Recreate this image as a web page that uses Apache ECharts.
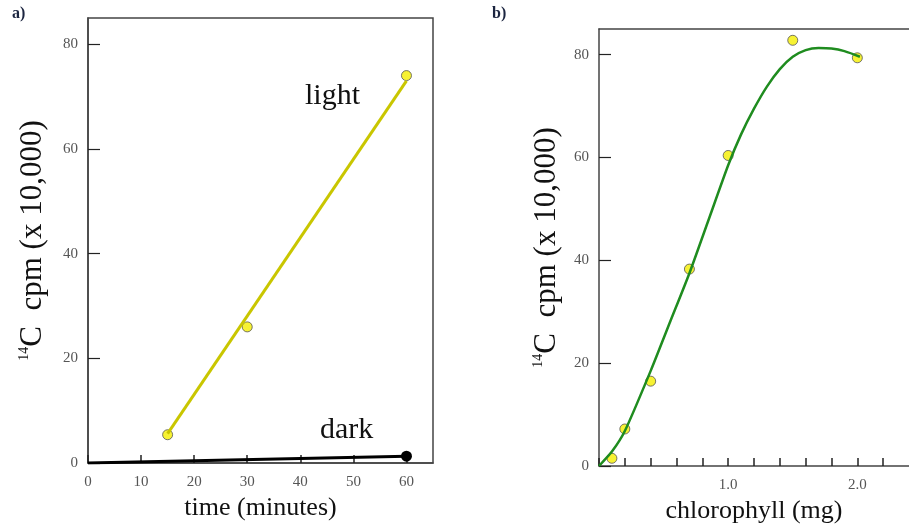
<!DOCTYPE html>
<html>
<head>
<meta charset="utf-8">
<script src="https://cdn.jsdelivr.net/npm/echarts@6/dist/echarts.min.js"></script>
<style>
html, body { margin: 0; padding: 0; background: #fff; }
#main { width: 909px; height: 532px; }
</style>
</head>
<body>
<div id="main"></div>
<script>
// panel a: time course
var lightTime = [15, 30, 60];
var lightCpm = [5.4, 26, 74];
var lightFit = [[15, 5.6], [60, 73]];
var darkLine = [[0, 0], [60, 1.3]];

// panel b: chlorophyll
var chloroMg = [0.1, 0.2, 0.4, 0.7, 1.0, 1.5, 2.0];
var chloroCpm = [1.5, 7.2, 16.5, 38.3, 60.4, 82.8, 79.4];
var chloroFit = [[0, 0], [0.1, 2.8], [0.2, 6.8], [0.4, 18.5], [0.55, 28], [0.7, 37.5], [0.85, 48],
    [1.0, 58.5], [1.1, 64.5], [1.2, 69.5], [1.3, 73.8], [1.4, 77.2], [1.5, 79.6], [1.6, 80.9],
    [1.7, 81.3], [1.8, 81.2], [1.9, 80.7], [2.02, 79.6]];
var chloroLabels = ['1.0', '2.0'];

var serif = "'Liberation Serif', 'DejaVu Serif', serif";

function pairs(xs, ys) {
    var out = [];
    for (var i = 0; i < xs.length; i++) {
        out.push([xs[i], ys[i]]);
    }
    return out;
}

function xAx(grid, min, max, interval, name, fmt) {
    return {
        gridIndex: grid,
        type: 'value',
        min: min,
        max: max,
        interval: interval,
        axisLine: { lineStyle: { color: '#444', width: 1.5 } },
        axisTick: { inside: true, length: 8, lineStyle: { color: '#222', width: 1.5 } },
        axisLabel: { showMaxLabel: false, color: '#555', fontFamily: serif, fontSize: 15, margin: 12, formatter: fmt },
        splitLine: { show: false },
        name: name,
        nameLocation: 'middle',
        nameGap: 28,
        nameTextStyle: { fontFamily: serif, fontSize: 26, color: '#111' }
    };
}

function yAx(grid, gap) {
    return {
        gridIndex: grid,
        type: 'value',
        min: 0,
        max: 85,
        interval: 20,
        axisLine: { lineStyle: { color: '#444', width: 1.5 } },
        axisTick: { inside: true, length: 12, lineStyle: { color: '#222', width: 1.2 } },
        axisLabel: { showMaxLabel: false, color: '#555', fontFamily: serif, fontSize: 15, margin: 10 },
        splitLine: { show: false },
        name: '{s|14}{t|C  cpm (x 10,000)}',
        nameLocation: 'middle',
        nameGap: gap,
        nameTextStyle: {
            rich: {
                s: { fontFamily: serif, fontSize: 14, color: '#111', verticalAlign: 'top' },
                t: { fontFamily: serif, fontSize: 31, color: '#111' }
            }
        }
    };
}

var dom = document.getElementById('main');
var myChart = echarts.init(dom);
var option = {
    backgroundColor: '#fff',
    animation: false,
    grid: [
        { left: 88, top: 18, width: 345, height: 445, show: true, borderColor: '#444', borderWidth: 1.5 },
        { left: 599, top: 29, width: 310, height: 437 }
    ],
    xAxis: [
        xAx(0, 0, 65, 10, 'time (minutes)'),
        xAx(1, 0, 2.4, 0.2, 'chlorophyll (mg)', function (v) {
            var r = Math.round(v);
            if (r > 0 && Math.abs(v - r) < 1e-6) {
                return chloroLabels[r - 1];
            }
            return '';
        }),
        {
            // top frame line of panel b
            gridIndex: 1,
            type: 'value',
            position: 'top',
            min: 0,
            max: 2.4,
            axisLine: { lineStyle: { color: '#444', width: 1.5 } },
            axisTick: { show: false },
            axisLabel: { show: false },
            splitLine: { show: false }
        }
    ],
    yAxis: [yAx(0, 40), yAx(1, 37)],
    graphic: [
        { type: 'text', left: 12, top: 6, style: { text: 'a)', font: 'bold 16px ' + serif, fill: '#1c2540' } },
        { type: 'text', left: 492, top: 6, style: { text: 'b)', font: 'bold 16px ' + serif, fill: '#1c2540' } },
        { type: 'text', left: 305, top: 81, style: { text: 'light', font: '30px ' + serif, fill: '#111' } },
        { type: 'text', left: 320, top: 415, style: { text: 'dark', font: '30px ' + serif, fill: '#111' } }
    ],
    series: [
        {
            type: 'line',
            xAxisIndex: 0,
            yAxisIndex: 0,
            data: lightFit,
            showSymbol: false,
            lineStyle: { color: '#c9c600', width: 3 }
        },
        {
            type: 'line',
            xAxisIndex: 0,
            yAxisIndex: 0,
            data: [{ value: darkLine[0], symbol: 'none' }, darkLine[1]],
            symbol: 'circle',
            symbolSize: 11,
            showSymbol: true,
            itemStyle: { color: '#000' },
            lineStyle: { color: '#000', width: 3 }
        },
        {
            type: 'scatter',
            xAxisIndex: 0,
            yAxisIndex: 0,
            data: pairs(lightTime, lightCpm),
            symbolSize: 10,
            itemStyle: { color: '#f5ef00', borderColor: '#555', borderWidth: 1 }
        },
        {
            type: 'line',
            xAxisIndex: 1,
            yAxisIndex: 1,
            data: chloroFit,
            smooth: 0.2,
            showSymbol: false,
            lineStyle: { color: '#1f8c1f', width: 2.5 }
        },
        {
            type: 'scatter',
            xAxisIndex: 1,
            yAxisIndex: 1,
            data: pairs(chloroMg, chloroCpm),
            symbolSize: 10,
            itemStyle: { color: '#f5ef00', borderColor: '#555', borderWidth: 1 }
        }
    ]
};
myChart.setOption(option, true);
</script>
</body>
</html>
